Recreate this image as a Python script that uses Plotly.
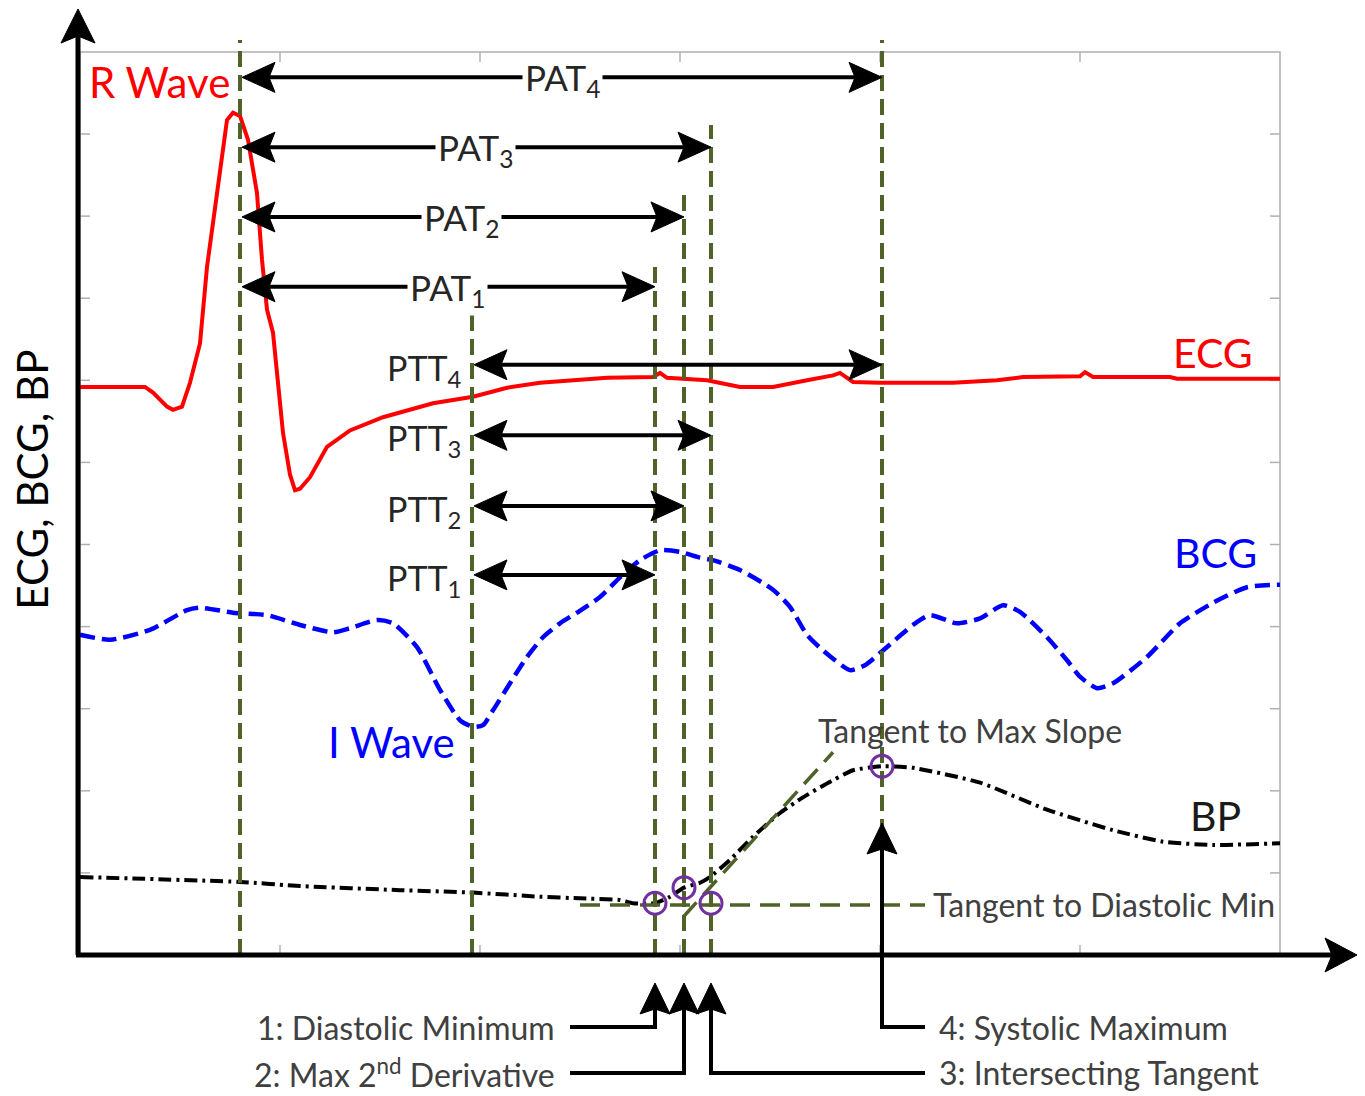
import plotly.graph_objects as go

# ---------------- data (arbitrary time / amplitude units) ----------------
ecg_t = [0.00, 0.325, 0.365, 0.435, 0.465, 0.51, 0.55, 0.60, 0.635, 0.70, 0.735, 0.765, 0.80,
         0.84, 0.885, 0.91, 0.935, 0.965, 1.015, 1.05, 1.075, 1.10, 1.15, 1.235, 1.35, 1.515,
         1.765, 1.965, 2.135, 2.30, 2.635, 2.865, 2.90, 2.935, 3.135, 3.30, 3.465, 3.635, 3.765,
         3.80, 3.865, 4.00, 4.365, 4.585, 4.715, 5.00, 5.025, 5.065, 5.45, 5.485, 6.00]
ecg_v = [6.92, 6.92, 6.85, 6.68, 6.64, 6.68, 6.97, 7.45, 8.38, 9.60, 10.17, 10.26, 10.22,
         9.93, 9.28, 8.47, 7.86, 7.58, 6.36, 5.85, 5.66, 5.68, 5.82, 6.19, 6.39, 6.55,
         6.72, 6.80, 6.91, 6.97, 7.03, 7.04, 7.09, 7.03, 7.00, 6.92, 6.92, 7.00, 7.06,
         7.09, 6.98, 6.97, 6.97, 7.00, 7.04, 7.05, 7.10, 7.04, 7.04, 7.02, 7.02]

bcg_t = [0.00, 0.15, 0.35, 0.535, 0.60, 0.765, 0.935, 1.10, 1.265, 1.35, 1.485, 1.565, 1.685,
         1.80, 1.90, 1.965, 2.015, 2.065, 2.15, 2.235, 2.315, 2.40, 2.485, 2.60, 2.70, 2.80,
         2.90, 3.00, 3.10, 3.165, 3.30, 3.465, 3.55, 3.635, 3.715, 3.85, 3.925, 4.015, 4.165,
         4.25, 4.385, 4.50, 4.615, 4.70, 4.835, 4.935, 5.00, 5.085, 5.165, 5.335, 5.50, 5.665,
         5.835, 6.00]
bcg_v = [3.90, 3.84, 3.96, 4.20, 4.23, 4.17, 4.14, 4.02, 3.93, 3.98, 4.08, 4.04, 3.75,
         3.23, 2.86, 2.78, 2.80, 2.98, 3.31, 3.63, 3.87, 4.04, 4.17, 4.36, 4.60, 4.81,
         4.93, 4.91, 4.84, 4.81, 4.69, 4.45, 4.24, 3.90, 3.71, 3.47, 3.53, 3.71, 4.02,
         4.14, 4.04, 4.10, 4.26, 4.18, 3.87, 3.59, 3.39, 3.25, 3.31, 3.63, 4.04, 4.29,
         4.48, 4.51]

bp_t = [0.00, 0.80, 1.10, 1.60, 1.965, 2.30, 2.50, 2.70, 2.765, 2.875, 2.95, 3.02, 3.10, 3.15,
        3.25, 3.365, 3.50, 3.615, 3.735, 3.865, 4.01, 4.165, 4.50, 4.835, 5.165, 5.415, 5.665, 6.00]
bp_v = [0.95, 0.89, 0.84, 0.79, 0.76, 0.71, 0.69, 0.67, 0.63, 0.63, 0.71, 0.82, 0.88, 0.95,
        1.16, 1.44, 1.73, 1.92, 2.09, 2.25, 2.30, 2.28, 2.10, 1.77, 1.52, 1.38, 1.34, 1.36]

# fiducial events
r_wave_t = 0.80
i_wave_t = 1.96
fid_t = [2.875, 3.02, 3.155, 4.01]          # 1: diastolic min, 2: max 2nd deriv, 3: intersecting tangent, 4: systolic max
fid_bp = [0.63, 0.82, 0.63, 2.30]
diast_tangent_level = 0.61
diast_tangent_t = [2.50, 4.225]
slope_tangent_t = [3.015, 3.765]
slope_tangent_v = [0.46, 2.47]

pat_names = ["PAT<sub>1</sub>", "PAT<sub>2</sub>", "PAT<sub>3</sub>", "PAT<sub>4</sub>"]
ptt_names = ["PTT<sub>1</sub>", "PTT<sub>2</sub>", "PTT<sub>3</sub>", "PTT<sub>4</sub>"]
x_ticks = [1, 2, 3, 4, 5]
y_ticks = [1, 2, 3, 4, 5, 6, 7, 8, 9, 10]

# ---------------- layout constants ----------------
# page has an 8px body margin, so the figure is 8px smaller and its ranges start 8px in
W, H = 1357, 1088
X_RANGE = [-0.36, 6.425]
Y_RANGE = [-1.7174, 11.535]
PX_X = (X_RANGE[1] - X_RANGE[0]) / W
PX_Y = (Y_RANGE[1] - Y_RANGE[0]) / H
X_MAX, Y_MAX = 6, 11
pat_y = [8.14, 8.99, 9.84, 10.69]
ptt_y = [4.63, 5.47, 6.33, 7.19]
pat_label_x = [1.835, 1.905, 1.975, 2.41]
ptt_label_x = 1.72
event_tops = [8.40, 9.26, 10.11, 11.145]
r_top, i_top = 11.145, 7.86

FONT = "Lato"
BIG, MID, SMALL = 42, 35, 32
OLIVE = "#4f6228"
PURPLE = "#7030a0"
GRAY_TXT = "#404040"
FRAME = "#b0b0b0"

fig = go.Figure()
fig.add_trace(go.Scatter(x=ecg_t, y=ecg_v, mode="lines", line=dict(color="#ff0000", width=4)))
fig.add_trace(go.Scatter(x=bcg_t, y=bcg_v, mode="lines",
                         line=dict(color="#0000ff", width=4.5, dash="15px,7px", shape="spline", smoothing=0.6)))
fig.add_trace(go.Scatter(x=bp_t, y=bp_v, mode="lines",
                         line=dict(color="#000000", width=4, dash="13px,5px,3px,5px", shape="spline", smoothing=0.5)))

# vertical event lines
for t, top in [(r_wave_t, r_top), (i_wave_t, i_top)] + list(zip(fid_t, event_tops)):
    fig.add_trace(go.Scatter(x=[t, t], y=[0, top], mode="lines",
                             line=dict(color=OLIVE, width=4, dash="16px,8px")))
# tangents
fig.add_trace(go.Scatter(x=diast_tangent_t, y=[diast_tangent_level] * 2, mode="lines",
                         line=dict(color=OLIVE, width=3.5, dash="20px,10px")))
fig.add_trace(go.Scatter(x=slope_tangent_t, y=slope_tangent_v, mode="lines",
                         line=dict(color=OLIVE, width=3.5, dash="20px,10px")))
fig.add_trace(go.Scatter(x=fid_t, y=fid_bp, mode="markers",
                         marker=dict(symbol="circle-open", size=22, color=PURPLE, line=dict(width=3, color=PURPLE))))

shapes = []
# gray frame + ticks
shapes.append(dict(type="rect", x0=0, x1=X_MAX, y0=0, y1=Y_MAX, line=dict(color=FRAME, width=1.5), layer="below"))
for v in x_ticks:
    shapes.append(dict(type="line", x0=v, x1=v, ysizemode="pixel", yanchor=Y_MAX, y0=0, y1=-10,
                       line=dict(color=FRAME, width=1.5), layer="below"))
    shapes.append(dict(type="line", x0=v, x1=v, ysizemode="pixel", yanchor=0, y0=0, y1=10,
                       line=dict(color=FRAME, width=1.5), layer="below"))
for v in y_ticks:
    shapes.append(dict(type="line", y0=v, y1=v, xsizemode="pixel", xanchor=X_MAX, x0=0, x1=-10,
                       line=dict(color=FRAME, width=1.5), layer="below"))
    shapes.append(dict(type="line", y0=v, y1=v, xsizemode="pixel", xanchor=0, x0=0, x1=10,
                       line=dict(color=FRAME, width=1.5), layer="below"))


def head(x, y, direction, length=33, half=15, notch=6):
    if direction == "right":
        pts = [(0, 0), (-length, half), (-length + notch, 0), (-length, -half)]
    elif direction == "left":
        pts = [(0, 0), (length, half), (length - notch, 0), (length, -half)]
    else:  # up
        pts = [(0, 0), (-half, -length), (0, -length + notch), (half, -length)]
    path = "M" + " L".join(f"{a},{b}" for a, b in pts) + " Z"
    return dict(type="path", xref="x", yref="y", xsizemode="pixel", ysizemode="pixel",
                xanchor=x, yanchor=y, path=path, fillcolor="black", line=dict(color="black", width=1))


def hline(x0, x1, y, w=4):
    return dict(type="line", x0=x0, x1=x1, y0=y, y1=y, line=dict(color="black", width=w))


# axes with arrows
x_axis_x = -0.01
shapes.append(dict(type="line", x0=x_axis_x, x1=x_axis_x, y0=0, y1=Y_RANGE[1] - 25 * PX_Y,
                   line=dict(color="black", width=5)))
shapes.append(head(x_axis_x, Y_RANGE[1] - 1 * PX_Y, "up", length=34, half=17, notch=7))
shapes.append(dict(type="line", x0=x_axis_x - 2 * PX_X, x1=X_RANGE[1] - 25 * PX_X, y0=0, y1=0,
                   line=dict(color="black", width=5)))
shapes.append(head(X_RANGE[1] - 8 * PX_X, 0, "right", length=32, half=17, notch=7))

# PAT arrows
for t, y in zip(fid_t, pat_y):
    shapes.append(hline(r_wave_t + 15 * PX_X, t - 15 * PX_X, y))
    shapes.append(head(r_wave_t + 2 * PX_X, y, "left"))
    shapes.append(head(t, y, "right"))
# PTT arrows
for t, y in zip(fid_t, ptt_y):
    shapes.append(hline(i_wave_t + 15 * PX_X, t - 15 * PX_X, y))
    shapes.append(head(i_wave_t + 2 * PX_X, y, "left"))
    shapes.append(head(t, y, "right"))

# bottom callouts
row1, row2 = -0.877, -1.437
tip_y = -0.341
left_end, right_end = 2.45, 4.225


def poly(pts, w=4):
    path = "M" + " L".join(f"{a},{b}" for a, b in pts)
    return dict(type="path", path=path, line=dict(color="black", width=w))


shapes.append(poly([(left_end, row1), (fid_t[0], row1), (fid_t[0], tip_y - 20 * PX_Y)]))
shapes.append(poly([(left_end, row2), (fid_t[1], row2), (fid_t[1], tip_y - 20 * PX_Y)]))
shapes.append(poly([(right_end, row2), (fid_t[2], row2), (fid_t[2], tip_y - 20 * PX_Y)]))
sys_tip = 1.608
shapes.append(poly([(right_end, row1), (fid_t[3], row1), (fid_t[3], sys_tip - 20 * PX_Y)]))
for t in fid_t[:3]:
    shapes.append(head(t, tip_y, "up", length=31, half=15, notch=5))
shapes.append(head(fid_t[3], sys_tip, "up", length=31, half=15, notch=5))

annotations = []


def label(x, y, text, size, color, xanchor="center", bg=None, angle=0):
    d = dict(x=x, y=y, xref="x", yref="y", text=text, showarrow=False, xanchor=xanchor, yanchor="middle",
             font=dict(family=FONT, size=size, color=color), textangle=angle)
    if bg:
        d.update(bgcolor=bg, borderpad=2)
    return d


for name, x, y in zip(pat_names, pat_label_x, pat_y):
    annotations.append(label(x, y - 0.03, name, MID, "#262626", bg="white"))
for name, y in zip(ptt_names, ptt_y):
    annotations.append(label(ptt_label_x, y - 0.06, name, MID - 1, "#262626"))

annotations += [
    label(0.395, 10.63, "R Wave", BIG, "#ff0000"),
    label(5.665, 7.34, "ECG", BIG - 1, "#ff0000"),
    label(5.675, 4.90, "BCG", BIG - 1, "#0000ff"),
    label(5.675, 1.705, "BP", BIG - 1, "#1a1a1a"),
    label(1.555, 2.59, "I Wave", BIG, "#0000ff"),
    label(-0.24, 5.79, "ECG, BCG, BP", BIG, "#000000", angle=-90),
    label(4.45, 2.74, "Tangent to Max Slope", SMALL, GRAY_TXT),
    label(4.25, diast_tangent_level, "Tangent to Diastolic Min", SMALL, GRAY_TXT, xanchor="left", bg="white"),
    label(2.385, row1, "1: Diastolic Minimum", SMALL, GRAY_TXT, xanchor="right"),
    label(2.385, row2, "2: Max 2<sup>nd</sup> Derivative", SMALL, GRAY_TXT, xanchor="right"),
    label(4.285, row1, "4: Systolic Maximum", SMALL, GRAY_TXT, xanchor="left"),
    label(4.285, row2, "3: Intersecting Tangent", SMALL, GRAY_TXT, xanchor="left"),
]

fig.update_layout(
    width=W, height=H, margin=dict(l=0, r=0, t=0, b=0),
    paper_bgcolor="white", plot_bgcolor="white", showlegend=False,
    xaxis=dict(range=X_RANGE, visible=False),
    yaxis=dict(range=Y_RANGE, visible=False),
    shapes=shapes, annotations=annotations,
)
fig.write_html("out.html")
